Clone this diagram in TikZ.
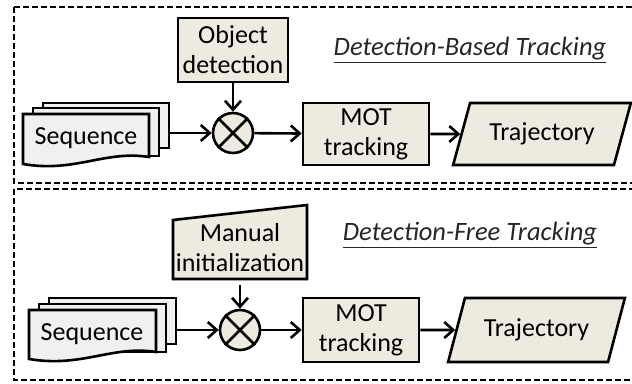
\documentclass[tikz,border=0pt]{standalone}
\usepackage{fontspec}
\setmainfont{Carlito}
\usetikzlibrary{shapes.geometric,arrows.meta}
\definecolor{boxfill}{HTML}{EDEADF}
\definecolor{seqfill}{HTML}{F0F0F0}
\definecolor{titlecol}{HTML}{262626}
\tikzset{
  lw/.style={line width=2.6pt},
  box/.style={draw, lw, fill=boxfill, align=center, inner sep=0pt, font=\fontsize{26}{30}\selectfont},
  plain/.style={align=center, inner sep=0pt, font=\fontsize{26}{30}\selectfont},
  sheet/.style={draw, lw, fill=seqfill, inner sep=0pt},
  otimes/.style={draw, lw, fill=boxfill, circle, minimum size=40pt, inner sep=0pt},
  trajbox/.style={draw, lw, fill=boxfill, trapezium, trapezium left angle=61, trapezium right angle=119, trapezium stretches=true, inner sep=0pt, font=\fontsize{26}{30}\selectfont},
  conn/.style={lw, -{Straight Barb[length=9pt,width=16pt]}},
  panel/.style={line width=1.9pt, dash pattern=on 6pt off 3pt},
  title/.style={inner sep=0pt, text=titlecol, font=\fontsize{26.5}{30}\selectfont\itshape},
}
\begin{document}
\begin{tikzpicture}[x=1pt,y=-1pt]
\useasboundingbox (0,0) rectangle (632,383);
\clip (0,0) rectangle (632,383);
\fill[white] (0,0) rectangle (632,383);
% panels
\draw[panel] (14,7) rectangle (660,183);
\draw[panel] (14,189) rectangle (660,380);

% ---------- top panel ----------
\node[sheet, minimum width=126pt, minimum height=45pt] (s3a) at (106,125.5) {};
\node[sheet, minimum width=126pt, minimum height=48pt] (s2a) at (96,132) {};
\draw[lw, fill=seqfill] (23,114) -- (149,114) -- (149,157) .. controls (105,150) and (75,173) .. (23,164) -- cycle;
\node[plain] (s1a) at (86,138) {Sequence};

\node[box, minimum width=110pt, minimum height=64pt] (obja) at (233,50) {Object\\detection};
\node[otimes] (c1a) at (233,133) {};
\draw[lw] (c1a.45) -- (c1a.225) (c1a.135) -- (c1a.315);
\node[box, minimum width=126pt, minimum height=62pt] (mota) at (366,134) {MOT\\tracking};
\node[trajbox, minimum width=178pt, minimum height=62pt] (traja) at (542,134) {Trajectory};
\node[title] (ta) at (470,50) {\underline{Detection-Based Tracking}};

\draw[conn] (s3a.east |- c1a) -- (c1a);
\draw[conn] (obja) -- (c1a);
\draw[conn] (c1a) -- (mota);
\draw[conn] (mota) -- (traja);

% ---------- bottom panel ----------
\node[sheet, minimum width=127pt, minimum height=46pt] (s3b) at (112.5,321) {};
\node[sheet, minimum width=127pt, minimum height=48pt] (s2b) at (102.5,328) {};
\draw[lw, fill=seqfill] (29,310) -- (156,310) -- (156,352) .. controls (112,345) and (82,368) .. (29,359) -- cycle;
\node[plain] (s1b) at (92,334) {Sequence};

\draw[lw, fill=boxfill] (173,220) -- (307,205) -- (307,279) -- (173,279) -- cycle;
\node[plain, minimum width=134pt, minimum height=74pt] (man) at (240,248) {Manual\\initialization};
\node[otimes] (c1b) at (240,330) {};
\draw[lw] (c1b.45) -- (c1b.225) (c1b.135) -- (c1b.315);
\node[box, minimum width=116pt, minimum height=64pt] (motb) at (361,330) {MOT\\tracking};
\node[trajbox, minimum width=177pt, minimum height=64pt] (trajb) at (536.5,330) {Trajectory};
\node[title] (tb) at (470,235) {\underline{Detection-Free Tracking}};

\draw[conn] (s3b.east |- c1b) -- (c1b);
\draw[conn] (man.south) -- (c1b);
\draw[conn] (c1b) -- (motb);
\draw[conn] (motb) -- (trajb);
\end{tikzpicture}
\end{document}
